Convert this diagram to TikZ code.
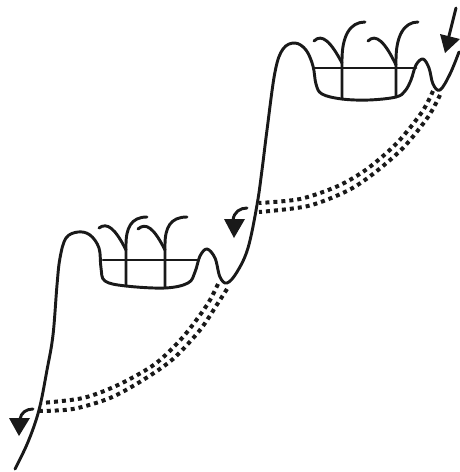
\documentclass[tikz,border=0pt]{standalone}
\begin{document}
\begin{tikzpicture}[x=0.75pt,y=-0.75pt,
  strand/.style={line width=2.2pt,black!90,line cap=round,line join=round},
  band/.style={line width=3pt,black!90,dash pattern=on 3pt off 3pt},
  tip/.style={fill=black!90,draw=none}]
\useasboundingbox (0,0) rectangle (460,472);
% main strand, top to bottom
\draw[strand] plot[smooth,tension=0.6] coordinates {(459,52) (450,74) (440,90) (433,84) (429,68) (423,59) (416,65) (411,80) (405,91) (396,97) (369,100) (342,99) (322,94) (316,84) (313,66) (306,50) (295,43) (283,49) (275,72) (267,130) (262,170) (257,205) (248,248) (237,272) (227,283) (220,277) (215,258) (207,249) (200,256) (195,272) (188,283) (165,288) (126,286) (105,281) (101,268) (99,248) (90,235) (78,232) (66,238) (60,258) (57,285) (53,335) (47,370) (39,410) (28,442) (15,469)};
% upper basin
\draw[strand] (315,68) -- (416,68);
\draw[strand] (342,99) -- (342,60) .. controls (342,36) and (350,22) .. (365,22);
\draw[strand] (396,97) -- (396,60) .. controls (396,36) and (404,22) .. (418,22);
\draw[strand] (314,41) .. controls (322,33) and (331,42) .. (342,63);
\draw[strand] (368,41) .. controls (376,33) and (385,42) .. (396,65);
% lower basin
\draw[strand] (103,260) -- (198,260);
\draw[strand] (126,286) -- (126,245) .. controls (126,228) and (131,217) .. (147,217);
\draw[strand] (165,288) -- (165,245) .. controls (165,228) and (170,217) .. (187,217);
\draw[strand] (99,228) .. controls (107,222) and (115,228) .. (126,250);
\draw[strand] (138,229) .. controls (146,222) and (154,228) .. (165,250);
% dotted bands
\draw[band] plot[smooth] coordinates {(433,91) (422,112) (397,143) (367,169) (338,186) (300,199) (259,203)};
\draw[band] plot[smooth] coordinates {(440,95) (428,117) (403,148) (373,174) (347,191) (308,206) (259,212)};
\draw[band] plot[smooth] coordinates {(218,284) (207,305) (183,337) (155,364) (118,385) (83,398) (41,403)};
\draw[band] plot[smooth] coordinates {(227,289) (218,303) (200,330) (173,359) (143,380) (110,398) (73,409) (39,411)};
% arrows
\draw[strand] (456,8) -- (448,40);
\fill[tip] (440,34) -- (460,39) -- (445,53) -- cycle;
\draw[strand] (247,208) .. controls (240,208) and (234,212) .. (233,220);
\fill[tip] (224,219) -- (245,219) -- (234,238) -- cycle;
\draw[strand] (33,409) .. controls (26,409) and (21,413) .. (20,419);
\fill[tip] (9,418) -- (30,418) -- (19,436) -- cycle;
\end{tikzpicture}
\end{document}
